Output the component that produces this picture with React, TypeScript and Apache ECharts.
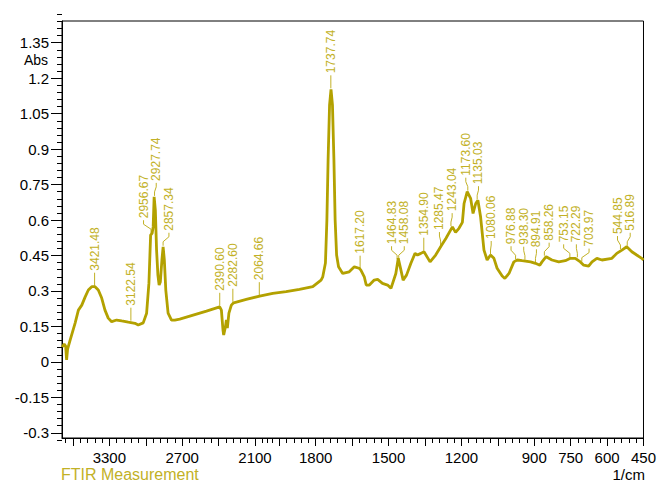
import React, { useEffect, useRef } from "react";
import * as echarts from "echarts";

// ---- Spectrum data (wavenumber in 1/cm, absorbance) ----
const wavenumbers = [
  3689, 3672, 3660, 3652, 3644, 3623, 3582, 3555, 3527, 3500, 3473, 3445, 3418, 3391, 3363, 3336, 3309, 3281,
  3240, 3198, 3144, 3089, 3062, 3021, 2993, 2974, 2960, 2947, 2939, 2931, 2921, 2911, 2900, 2890, 2880, 2867,
  2857, 2847, 2835, 2816, 2788, 2761, 2720, 2610, 2500, 2391, 2377, 2364, 2358, 2344, 2336, 2328, 2315, 2295,
  2276, 2172, 2062, 1977, 1922, 1867, 1812, 1778, 1771, 1760, 1754, 1749, 1743, 1737, 1731, 1725, 1720, 1714,
  1706, 1689, 1662, 1641, 1621, 1614, 1600, 1592, 1579, 1559, 1545, 1525, 1504, 1490, 1470, 1460, 1449, 1440,
  1426, 1408, 1391, 1381, 1367, 1354, 1329, 1306, 1281, 1264, 1237, 1224, 1210, 1196, 1189, 1176, 1162, 1152,
  1141, 1132, 1121, 1107, 1094, 1080, 1066, 1053, 1032, 1021, 1004, 984, 970, 950, 915, 895, 877, 868, 851,
  827, 799, 772, 751, 731, 710, 696, 676, 662, 642, 621, 580, 560, 539, 519, 498, 478, 457, 450,
];
const absorbance = [
  0.063, 0.075, 0.067, 0.008, 0.054, 0.092, 0.164, 0.219, 0.24, 0.274, 0.304, 0.318, 0.318, 0.304, 0.27, 0.219, 0.185, 0.17,
  0.177, 0.173, 0.168, 0.163, 0.156, 0.165, 0.206, 0.333, 0.536, 0.545, 0.571, 0.698, 0.642, 0.473, 0.367, 0.325, 0.338, 0.431,
  0.487, 0.431, 0.304, 0.206, 0.177, 0.177, 0.181, 0.198, 0.215, 0.233, 0.219, 0.135, 0.114, 0.148, 0.177, 0.143, 0.206, 0.24,
  0.25, 0.264, 0.278, 0.29, 0.297, 0.307, 0.318, 0.346, 0.36, 0.418, 0.6, 0.854, 1.086, 1.153, 1.086, 0.854, 0.6, 0.452,
  0.402, 0.374, 0.381, 0.402, 0.396, 0.388, 0.36, 0.325, 0.325, 0.346, 0.349, 0.332, 0.325, 0.311, 0.374, 0.438, 0.388, 0.346,
  0.367, 0.417, 0.459, 0.452, 0.459, 0.466, 0.423, 0.452, 0.494, 0.522, 0.571, 0.548, 0.565, 0.59, 0.67, 0.72, 0.692, 0.628,
  0.67, 0.684, 0.614, 0.473, 0.431, 0.452, 0.438, 0.396, 0.363, 0.353, 0.374, 0.423, 0.431, 0.428, 0.423, 0.417, 0.409, 0.423, 0.445,
  0.431, 0.423, 0.428, 0.438, 0.438, 0.423, 0.409, 0.405, 0.423, 0.438, 0.431, 0.438, 0.459, 0.473, 0.487, 0.466, 0.452, 0.438, 0.431,
];

// ---- Peak picks ----
const peakWavenumbers = [
  3421.48, 3122.54, 2956.67, 2927.74, 2857.34, 2390.6, 2282.6, 2064.66, 1737.74, 1617.2, 1464.83, 1458.08, 1354.9,
  1285.47, 1243.04, 1173.6, 1135.03, 1080.06, 976.88, 938.3, 894.91, 858.26, 753.15, 722.29, 703.97, 544.85, 516.89,
];
const peakValues = [
  0.318, 0.17, 0.54, 0.698, 0.487, 0.233, 0.25, 0.278, 1.153, 0.39, 0.43, 0.43, 0.466,
  0.49, 0.57, 0.72, 0.684, 0.452, 0.43, 0.428, 0.417, 0.445, 0.438, 0.438, 0.42, 0.473, 0.487,
];

// ---- Axis ticks ----
const xTickLabels = [3300, 2700, 2100, 1800, 1500, 1200, 900, 750, 600, 450];
const xMajorTicks = [3600, 3300, 3000, 2700, 2400, 2100, 1950, 1800, 1650, 1500, 1350, 1200, 1050, 900, 750, 600, 450];
const yTickLabels = [-0.3, -0.15, 0, 0.15, 0.3, 0.45, 0.6, 0.75, 0.9, 1.05, 1.2, 1.35];
const yMinorStep = 0.03;

const X_MAX_WN = 3690;
const Y_MIN = -0.322;
const Y_MAX = 1.442;

const LINE_COLOR = "#b3a100";
const TEXT_COLOR = "#c2b126";
const FONT = "'Liberation Sans', Arial, sans-serif";

// plot frame in pixels
const GRID_LEFT = 62;
const GRID_TOP = 21;
const GRID_RIGHT = 14;
const GRID_BOTTOM = 46;
const CHART_H = 484;

// Wavenumber axis is compressed by a factor 2 above 2000 1/cm
const toU = (w: number) => (w <= 2000 ? w : 2000 + (w - 2000) / 2);
const fromU = (u: number) => (u <= 2000 ? u : 2000 + (u - 2000) * 2);

function buildMinorX(): number[] {
  const out: number[] = [];
  for (let w = 3660; w > 2000; w -= 60) out.push(w);
  out.push(2000);
  for (let w = 1980; w >= 450; w -= 30) out.push(w);
  return out;
}

function layoutLabels(xs: number[], d: number): number[] {
  type C = { idx: number[]; sum: number };
  const clusters: C[] = [];
  const pos = (c: C, k: number) => c.sum / c.idx.length + (k - (c.idx.length - 1) / 2) * d;
  xs.forEach((x, i) => {
    clusters.push({ idx: [i], sum: x });
    while (clusters.length > 1) {
      const b = clusters[clusters.length - 1];
      const a = clusters[clusters.length - 2];
      if (pos(a, a.idx.length - 1) + d > pos(b, 0)) {
        clusters.pop();
        clusters.pop();
        clusters.push({ idx: a.idx.concat(b.idx), sum: a.sum + b.sum });
      } else break;
    }
  });
  const res: number[] = new Array(xs.length);
  clusters.forEach((c) => c.idx.forEach((i, k) => (res[i] = pos(c, k))));
  return res;
}

export default function App() {
  const ref = useRef<HTMLDivElement>(null);
  useEffect(() => {
    if (!ref.current) return;
    const chart = echarts.init(ref.current, undefined, { renderer: "svg" });
    const lineData = wavenumbers.map((w, i) => [toU(w), absorbance[i]]);
    const peakData = peakWavenumbers.map((w, i) => [toU(w), peakValues[i], w]);

    // second grid for the minor y ticks: same pixel scale, limits snapped to the minor step
    const plotH = CHART_H - GRID_TOP - GRID_BOTTOM;
    const pxPerUnit = plotH / (Y_MAX - Y_MIN);
    const minorMin = Math.floor(Y_MIN / yMinorStep - 1e-9) * yMinorStep;
    const minorMax = Math.ceil(Y_MAX / yMinorStep - 1e-9) * yMinorStep;
    const grid2Top = GRID_TOP - (minorMax - Y_MAX) * pxPerUnit;
    const grid2Bottom = GRID_BOTTOM - (Y_MIN - minorMin) * pxPerUnit;

    const renderPeak = (params: any, api: any) => {
      const i = params.dataIndex;
      const pts = peakData.map((p) => api.coord([p[0], p[1]]));
      const order = pts.map((_, k) => k).sort((a, b) => pts[a][0] - pts[b][0]);
      const lx = layoutLabels(order.map((k) => pts[k][0]), 12.7);
      const labelX: number[] = [];
      order.forEach((k, j) => (labelX[k] = lx[j]));
      const [px, py] = pts[i];
      const tx = labelX[i];
      const leader =
        Math.abs(tx - px) < 0.6
          ? [[px, py - 1], [px, py - 14]]
          : [[px, py - 1], [px, py - 5], [tx, py - 10], [tx, py - 14]];
      return {
        type: "group",
        children: [
          {
            type: "polyline",
            shape: { points: leader },
            style: { stroke: TEXT_COLOR, lineWidth: 1, fill: "none" },
          },
          {
            type: "text",
            x: tx,
            y: py - 16,
            rotation: Math.PI / 2,
            style: {
              text: (peakData[i][2] as number).toFixed(2),
              fill: TEXT_COLOR,
              fontSize: 12,
              fontFamily: FONT,
              align: "left",
              verticalAlign: "middle",
            },
          },
        ],
      };
    };

    const axisCommonX = {
      type: "value",
      min: 450,
      max: toU(X_MAX_WN),
      inverse: true,
      position: "bottom",
      offset: 0,
      splitLine: { show: false },
    };

    chart.setOption({
      animation: false,
      grid: [
        {
          left: GRID_LEFT,
          top: GRID_TOP,
          right: GRID_RIGHT,
          bottom: GRID_BOTTOM,
          show: true,
          borderColor: "#000",
          borderWidth: 1,
          backgroundColor: "transparent",
        },
        {
          left: GRID_LEFT,
          top: grid2Top,
          right: GRID_RIGHT,
          bottom: grid2Bottom,
          show: false,
        },
      ],
      xAxis: [
        {
          ...axisCommonX,
          gridIndex: 0,
          axisLine: { show: true, onZero: false, lineStyle: { color: "#000", width: 1 } },
          axisTick: {
            show: true,
            length: 8,
            lineStyle: { color: "#000" },
            customValues: xMajorTicks.map(toU),
          },
          axisLabel: {
            show: true,
            customValues: xTickLabels.map(toU),
            formatter: (v: number) => String(Math.round(fromU(v))),
            color: "#000",
            fontSize: 15,
            fontFamily: FONT,
            margin: 12,
          },
        },
        {
          ...axisCommonX,
          gridIndex: 0,
          axisLine: { show: false, onZero: false },
          axisTick: {
            show: true,
            length: 5,
            lineStyle: { color: "#000" },
            customValues: buildMinorX().map(toU),
          },
          axisLabel: { show: false },
        },
        {
          ...axisCommonX,
          gridIndex: 1,
          show: false,
        },
      ],
      yAxis: [
        {
          type: "value",
          gridIndex: 0,
          min: Y_MIN,
          max: Y_MAX,
          position: "left",
          splitLine: { show: false },
          axisLine: { show: true, onZero: false, lineStyle: { color: "#000", width: 1 } },
          axisTick: {
            show: true,
            length: 11,
            lineStyle: { color: "#000" },
            customValues: yTickLabels,
          },
          axisLabel: {
            show: true,
            customValues: yTickLabels,
            formatter: (v: number) => String(parseFloat(v.toFixed(2))),
            color: "#000",
            fontSize: 15,
            fontFamily: FONT,
            margin: 13,
          },
        },
        {
          type: "value",
          gridIndex: 1,
          min: minorMin,
          max: minorMax,
          interval: yMinorStep,
          position: "left",
          splitLine: { show: false },
          axisLine: { show: false, onZero: false },
          axisTick: { show: true, length: 5, lineStyle: { color: "#000" } },
          axisLabel: { show: false },
        },
      ],
      graphic: [
        {
          type: "text",
          x: 48,
          y: 60,
          style: { text: "Abs", fill: "#000", fontSize: 14, fontFamily: FONT, align: "right", verticalAlign: "middle" },
        },
        {
          type: "text",
          x: 645,
          y: 474,
          style: { text: "1/cm", fill: "#000", fontSize: 15, fontFamily: FONT, align: "right", verticalAlign: "middle" },
        },
        {
          type: "text",
          x: 61,
          y: 474,
          style: {
            text: "FTIR Measurement",
            fill: TEXT_COLOR,
            fontSize: 16,
            fontFamily: FONT,
            align: "left",
            verticalAlign: "middle",
          },
        },
      ],
      series: [
        {
          type: "line",
          xAxisIndex: 0,
          yAxisIndex: 0,
          data: lineData,
          showSymbol: false,
          symbol: "none",
          lineStyle: { color: LINE_COLOR, width: 2.8 },
          silent: true,
        },
        {
          type: "custom",
          xAxisIndex: 0,
          yAxisIndex: 0,
          data: peakData,
          renderItem: renderPeak,
          clip: false,
          silent: true,
        },
      ],
    });
    return () => chart.dispose();
  }, []);
  return <div ref={ref} style={{ position: "absolute", left: 0, top: 0, width: 659, height: 484 }} />;
}
